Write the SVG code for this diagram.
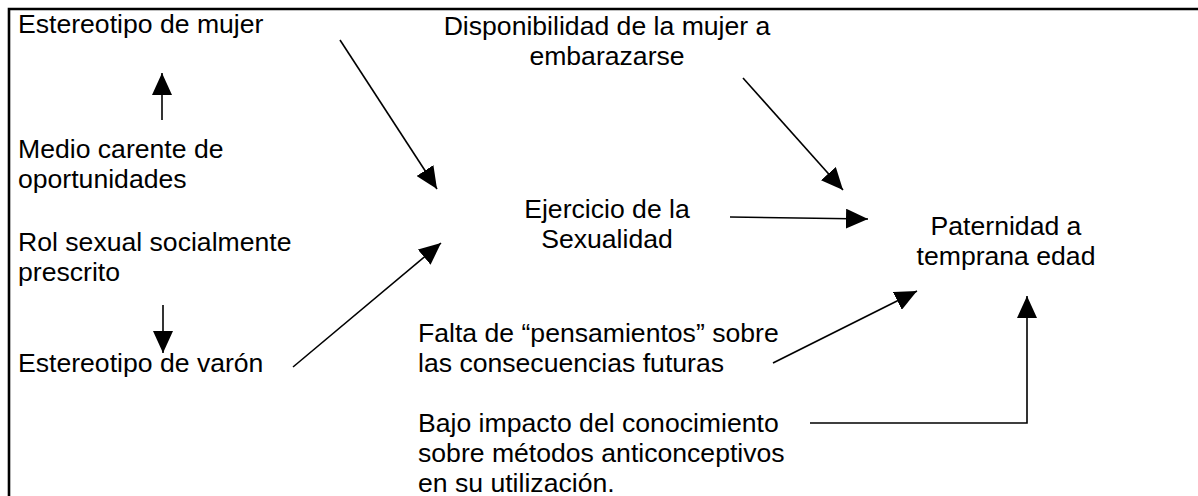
<svg xmlns="http://www.w3.org/2000/svg" width="1198" height="496" viewBox="0 0 1198 496">
<style>
text{font-family:"Liberation Sans",Arial,sans-serif;font-size:26.6px;fill:#000}
.c{text-anchor:middle}
.ln{stroke:#000;stroke-width:1.6;fill:none}
</style>
<defs>
<marker id="ah" markerUnits="userSpaceOnUse" markerWidth="22" markerHeight="20" refX="22" refY="10" orient="auto">
<path d="M0,0 L22,10 L0,20 z" fill="#000"/>
</marker>
</defs>
<rect width="1198" height="496" fill="#fff"/>
<path d="M9,500 V9 H1200" fill="none" stroke="#000" stroke-width="2.6"/>
<g id="n-estereotipo-mujer"><text x="18" y="33">Estereotipo de mujer</text></g>
<g id="n-medio"><text x="18" y="158">Medio carente de</text><text x="18" y="188">oportunidades</text></g>
<g id="n-rol"><text x="18" y="251">Rol sexual socialmente</text><text x="18" y="281">prescrito</text></g>
<g id="n-estereotipo-varon"><text x="18" y="372">Estereotipo de varón</text></g>
<g id="n-disponibilidad"><text class="c" x="607" y="35">Disponibilidad de la mujer a</text><text class="c" x="607" y="65">embarazarse</text></g>
<g id="n-ejercicio"><text class="c" x="607" y="218">Ejercicio de la</text><text class="c" x="607" y="248">Sexualidad</text></g>
<g id="n-paternidad"><text class="c" x="1006" y="235">Paternidad a</text><text class="c" x="1006" y="265">temprana edad</text></g>
<g id="n-falta"><text x="418" y="342">Falta de “pensamientos” sobre</text><text x="418" y="372">las consecuencias futuras</text></g>
<g id="n-bajo"><text x="418" y="432">Bajo impacto del conocimiento</text><text x="418" y="462">sobre métodos anticonceptivos</text><text x="418" y="492">en su utilización.</text></g>
<g id="connectors" class="ln" marker-end="url(#ah)">
<line x1="162" y1="120" x2="162" y2="73"/>
<line x1="163" y1="305" x2="163" y2="353"/>
<line x1="340" y1="40" x2="437" y2="189"/>
<line x1="293" y1="367" x2="441" y2="243"/>
<line x1="743" y1="78" x2="843" y2="190"/>
<line x1="730" y1="217" x2="868" y2="219"/>
<line x1="773" y1="363" x2="917" y2="291"/>
<polyline points="810,423 1027,423 1027,296"/>
</g>
</svg>
